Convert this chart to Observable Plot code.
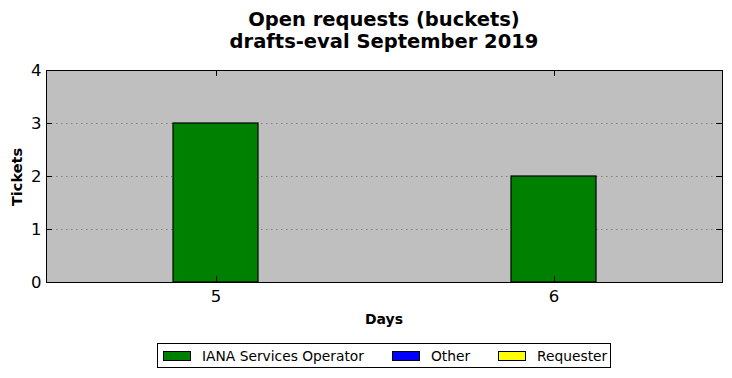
<!DOCTYPE html>
<html>
<head>
<meta charset="utf-8">
<script src="https://cdn.jsdelivr.net/npm/d3@7"></script>
<script src="https://cdn.jsdelivr.net/npm/@observablehq/plot@0.6"></script>
<style>
  html, body { margin: 0; padding: 0; background: #fff; }
  #wrap { position: relative; width: 732px; height: 378px; font-family: "DejaVu Sans", sans-serif; }
  .title { position: absolute; left: 46px; width: 676px; text-align: center; font-weight: bold; font-size: 19.5px; color: #000; line-height: 22px; white-space: nowrap; }
  .ylab { position: absolute; left: 17px; top: 177px; transform: translate(-50%, -50%) rotate(-90deg); font-weight: bold; font-size: 14.5px; white-space: nowrap; }
  .xlab { position: absolute; left: 384px; top: 319px; transform: translate(-50%, -50%); font-weight: bold; font-size: 14px; }
  #legend { position: absolute; left: 157px; top: 343px; width: 452px; height: 23px; border: 1px solid #000; font-size: 13.8px; }
  #legend .item { position: absolute; top: 0; height: 23px; display: flex; align-items: center; white-space: nowrap; }
  #legend .sw { width: 26px; height: 8px; border: 1px solid #000; margin-right: 11px; flex-shrink: 0; }
  svg { position: absolute; left: 0; top: 0; }
</style>
</head>
<body>
<div id="wrap">
  <div class="title" style="top:9px">Open requests (buckets)</div>
  <div class="title" style="top:31px">drafts-eval September 2019</div>
  <div class="ylab">Tickets</div>
  <div class="xlab">Days</div>
  <div id="legend"></div>
</div>
<script>
const days = ["5", "6"];
const series = ["IANA Services Operator", "Other", "Requester"];
const colors = ["#008000", "#0000ff", "#ffff00"];
const ianaValues = [3, 2];
const otherValues = [0, 0];
const requesterValues = [0, 0];
const yTicks = [0, 1, 2, 3, 4];
const gridTicks = [1, 2, 3];

const valuesBySeries = [ianaValues, otherValues, requesterValues];
const data = [];
series.forEach((s, si) => days.forEach((d, di) => data.push({day: d, series: s, value: valuesBySeries[si][di]})));

// inward tick marks, drawn from the plot's own scales
function inwardTicks(index, scales, values, dim) {
  const g = d3.create("svg:g").attr("stroke", "#000").attr("stroke-width", 1);
  const L = dim.marginLeft, R = dim.width - dim.marginRight;
  const T = dim.marginTop, B = dim.height - dim.marginBottom;
  const len = 6;
  for (const t of yTicks) {
    const y = Math.round(scales.y(t)) + 0.5;
    g.append("line").attr("x1", L).attr("x2", L + len).attr("y1", y).attr("y2", y);
    g.append("line").attr("x1", R).attr("x2", R - len).attr("y1", y).attr("y2", y);
  }
  const bw = scales.x.bandwidth ? scales.x.bandwidth() : 0;
  for (const d of days) {
    const x = Math.round(scales.x(d) + bw / 2) + 0.5;
    g.append("line").attr("x1", x).attr("x2", x).attr("y1", B).attr("y2", B - len);
    g.append("line").attr("x1", x).attr("x2", x).attr("y1", T).attr("y2", T + len);
  }
  return g.node();
}

const chart = Plot.plot({
  width: 732,
  height: 378,
  marginTop: 70,
  marginBottom: 96,
  marginLeft: 46,
  marginRight: 10,
  style: {fontFamily: "DejaVu Sans, sans-serif", fontSize: "16.5px", background: "transparent", overflow: "visible", color: "#000"},
  x: {type: "band", domain: days, paddingInner: 0.749, paddingOuter: 0.3745, label: null},
  y: {domain: [0, 4], label: null},
  color: {domain: series, range: colors},
  marks: [
    Plot.frame({fill: "#bfbfbf", stroke: null}),
    Plot.ruleY(gridTicks, {stroke: "#808080", strokeDasharray: "1.5,3.5", strokeWidth: 1}),
    Plot.barY(data.filter(d => d.value > 0), {x: "day", y: "value", fill: "series", stroke: "#000", strokeWidth: 1.2, inset: 0}),
    Plot.axisY({ticks: yTicks, tickFormat: d3.format("d"), tickSize: 0, tickPadding: 5, fontSize: 16.5, label: null}),
    Plot.axisX({tickSize: 0, tickPadding: 8, fontSize: 16.5, label: null}),
    inwardTicks,
    Plot.frame({stroke: "#000", strokeWidth: 1})
  ]
});
document.getElementById("wrap").appendChild(chart);

const legend = document.getElementById("legend");
const legendLeft = [5, 234, 340];
series.forEach((s, i) => {
  const item = document.createElement("div");
  item.className = "item";
  item.style.left = legendLeft[i] + "px";
  const sw = document.createElement("div");
  sw.className = "sw";
  sw.style.background = colors[i];
  const label = document.createElement("span");
  label.textContent = s;
  item.appendChild(sw);
  item.appendChild(label);
  legend.appendChild(item);
});
</script>
</body>
</html>
